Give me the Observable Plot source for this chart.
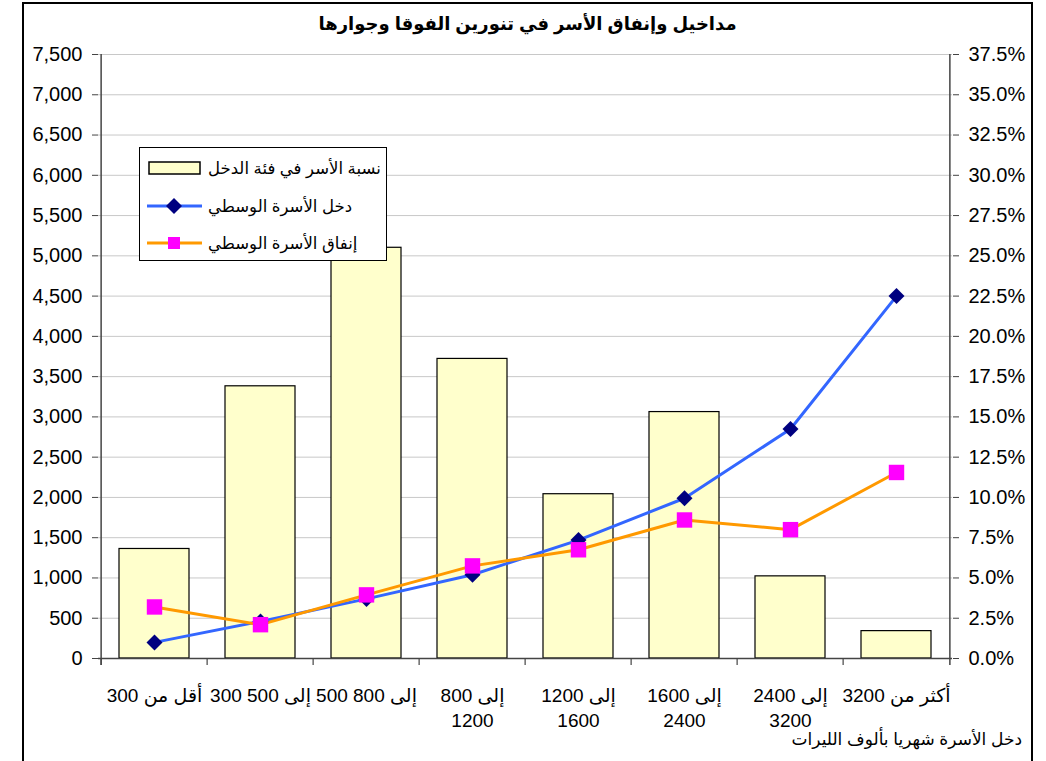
<!DOCTYPE html>
<html>
<head>
<meta charset="utf-8">
<script src="https://cdn.jsdelivr.net/npm/d3@7"></script>
<script src="https://cdn.jsdelivr.net/npm/@observablehq/plot@0.6"></script>
<style>
  body { margin: 0; background: #fff; font-family: "Liberation Sans", "DejaVu Sans", sans-serif; }
  #wrap { position: relative; width: 1046px; height: 761px; overflow: hidden; background: #fff; }
  #frame { position: absolute; left: 22px; top: 2px; width: 1011px; height: 820px; border: 2px solid #000; box-sizing: border-box; pointer-events: none; }
  #title { position: absolute; top: 12px; left: 0; width: 1055px; text-align: center; font-weight: bold; font-size: 18px; line-height: 24px; color: #000; }
  #chart { position: absolute; left: 0; top: 40px; }
  #caption { position: absolute; right: 24px; top: 729px; font-size: 17px; line-height: 22px; color: #000; }
  #legend { position: absolute; left: 139px; top: 147px; width: 248px; height: 114px; border: 1.5px solid #000; background: #fff; box-sizing: border-box; }
  #legend .row { position: absolute; left: 6px; height: 24px; display: flex; align-items: center; }
  #legend .row span { font-size: 16.5px; margin-left: 6px; color: #000; white-space: nowrap; }
</style>
</head>
<body>
<div id="wrap">
  <div id="title" dir="rtl"></div>
  <div id="chart"></div>
  <div id="legend"></div>
  <div id="caption" dir="rtl"></div>
  <div id="frame"></div>
</div>
<script>
// ---- data ----
const titleText = "مداخيل وإنفاق الأسر في تنورين الفوقا وجوارها";
const captionText = "دخل الأسرة شهريا بألوف الليرات";
const categories = [
  "أقل من 300",
  "300 إلى 500",
  "500 إلى 800",
  "800 إلى\n1200",
  "1200 إلى\n1600",
  "1600 إلى\n2400",
  "2400 إلى\n3200",
  "أكثر من 3200"
];
const shareLabel = "نسبة الأسر في فئة الدخل";
const incomeLabel = "دخل الأسرة الوسطي";
const spendingLabel = "إنفاق الأسرة الوسطي";
const sharePct = [6.8, 16.9, 25.5, 18.6, 10.2, 15.3, 5.1, 1.7];        // right axis (%)
const medianIncome = [200, 460, 740, 1040, 1470, 1990, 2850, 4500];    // left axis
const medianSpending = [640, 420, 790, 1150, 1350, 1720, 1600, 2310];  // left axis
const leftTicks = [0, 500, 1000, 1500, 2000, 2500, 3000, 3500, 4000, 4500, 5000, 5500, 6000, 6500, 7000, 7500];
const rightTicks = [0, 2.5, 5, 7.5, 10, 12.5, 15, 17.5, 20, 22.5, 25, 27.5, 30, 32.5, 35, 37.5];

// ---- colours ----
const barFill = "#FFFFCC", incomeColor = "#3366FF", incomeMarker = "#000080",
      spendColor = "#FF9900", spendMarker = "#FF00FF";

const leftMax = leftTicks[leftTicks.length - 1];
const rightMax = rightTicks[rightTicks.length - 1];
const ratio = leftMax / rightMax; // left units per 1 %

const shareData = categories.map((c, i) => ({cat: c, v: sharePct[i] * ratio}));
const incomeData = categories.map((c, i) => ({cat: c, v: medianIncome[i]}));
const spendData = categories.map((c, i) => ({cat: c, v: medianSpending[i]}));

const W = 1046, H = 690;
const mL = 98, mR = 94, mT = 14, mB = 72;
const half = (W - mL - mR) / categories.length / 2;
const tickExt = 7 * leftMax / (H - mT - mB);

const chart = Plot.plot({
  width: W, height: H,
  marginLeft: mL, marginRight: mR, marginTop: mT, marginBottom: mB,
  style: {fontFamily: '"Liberation Sans", "DejaVu Sans", sans-serif', background: "transparent", color: "#000"},
  x: {domain: categories, type: "band", paddingInner: 0.335, paddingOuter: 0.1675, label: null},
  y: {domain: [0, leftMax], label: null},
  marks: [
    Plot.gridY(leftTicks, {stroke: "#c8c8c8", strokeOpacity: 1}),
    Plot.barY(shareData, {x: "cat", y: "v", fill: barFill, stroke: "#000", strokeWidth: 1.2}),
    Plot.ruleX(categories, {dx: -half, y1: 0, y2: -tickExt, stroke: "#444", strokeWidth: 1.2}),
    Plot.ruleX([categories[0]], {dx: -half, y1: -tickExt, y2: leftMax, stroke: "#444", strokeWidth: 1.5}),
    Plot.ruleX([categories[categories.length - 1]], {dx: half, y1: -tickExt, y2: leftMax, stroke: "#444", strokeWidth: 1.5}),
    Plot.ruleY([0], {stroke: "#444", strokeWidth: 1.5}),
    Plot.line(incomeData, {x: "cat", y: "v", stroke: incomeColor, strokeWidth: 3}),
    Plot.line(spendData, {x: "cat", y: "v", stroke: spendColor, strokeWidth: 3}),
    Plot.dot(incomeData, {x: "cat", y: "v", symbol: "diamond2", r: 7.2, fill: incomeMarker, stroke: "none"}),
    Plot.dot(spendData, {x: "cat", y: "v", symbol: "square", r: 8.7, fill: spendMarker, stroke: "none"}),
    Plot.axisY(leftTicks, {anchor: "left", tickFormat: d3.format(","), tickSize: 6, tickPadding: 10, fontSize: 20, stroke: "#444"}),
    Plot.axisY(rightTicks.map(p => p * ratio), {anchor: "right", tickFormat: d => (d / ratio).toFixed(1) + "%", tickSize: 6, tickPadding: 10, fontSize: 20, stroke: "#444"}),
    Plot.axisX({tickSize: 0, tickPadding: 26, fontSize: 19, lineHeight: 1.3})
  ]
});
document.getElementById("chart").appendChild(chart);
document.getElementById("title").textContent = titleText;
document.getElementById("caption").textContent = captionText;

// ---- legend ----
const legend = document.getElementById("legend");
const rows = [
  {label: shareLabel, top: 8, kind: "bar"},
  {label: incomeLabel, top: 46, kind: "income"},
  {label: spendingLabel, top: 83, kind: "spend"}
];
rows.forEach(r => {
  const row = document.createElement("div");
  row.className = "row";
  row.style.top = r.top + "px";
  let sw;
  if (r.kind === "bar") {
    sw = `<svg width="56" height="24"><rect x="3" y="6" width="51" height="12" fill="${barFill}" stroke="#000" stroke-width="1.5"/></svg>`;
  } else if (r.kind === "income") {
    sw = `<svg width="56" height="24"><line x1="1" x2="56" y1="12" y2="12" stroke="${incomeColor}" stroke-width="3"/><path d="M28,4L36,12L28,20L20,12Z" fill="${incomeMarker}"/></svg>`;
  } else {
    sw = `<svg width="56" height="24"><line x1="1" x2="56" y1="12" y2="12" stroke="${spendColor}" stroke-width="3"/><rect x="22" y="6" width="12" height="12" fill="${spendMarker}"/></svg>`;
  }
  row.innerHTML = sw + `<span></span>`;
  row.querySelector("span").textContent = r.label;
  legend.appendChild(row);
});
</script>
</body>
</html>
